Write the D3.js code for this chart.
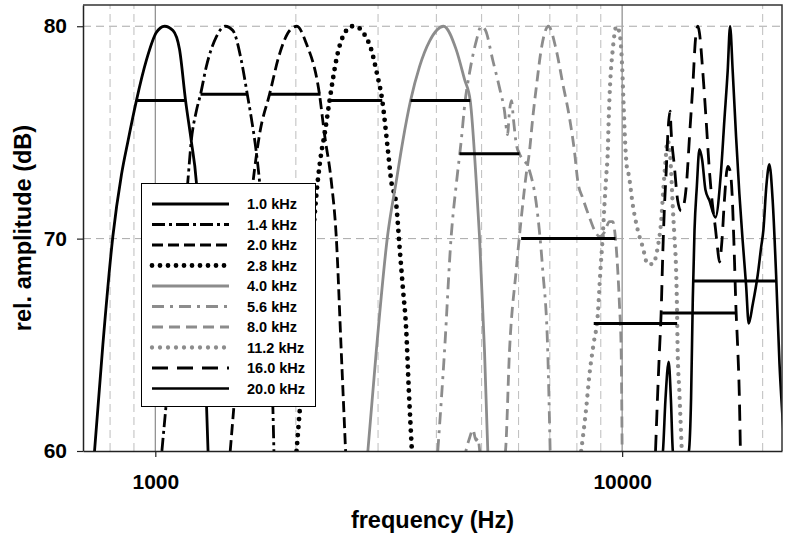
<!DOCTYPE html>
<html>
<head>
<meta charset="utf-8">
<script src="https://cdn.jsdelivr.net/npm/d3@7"></script>
<style>
body { margin: 0; background: #fff; }
text { font-family: "Liberation Sans", Arial, sans-serif; font-weight: bold; fill: #000; }
</style>
</head>
<body>
<div id="container"></div>
<script>
// tuning curves, [frequency Hz, rel. amplitude dB]
var c1_0 = [[741,60],[772,65.0],[811,70.1],[846,73.0],[874,74.6],[911,76.5],[957,78.4],[1005,79.7],[1047,80],[1091,79.8],[1127,78.9],[1161,76.5],[1194,74.6],[1224,72.7],[1269,65.7],[1288,62.0],[1297,60]];
var c1_4 = [[1033,60],[1052,61.9],[1105,66.8],[1174,72.7],[1194,74.6],[1224,76.0],[1250,76.8],[1286,78.1],[1351,79.5],[1412,80],[1466,79.8],[1528,78.4],[1574,76.8],[1605,75.7],[1645,74.1],[1672,72.7],[1740,67.1],[1786,62.0],[1795,60]];
var c2_0 = [[1447,60],[1530,66.4],[1620,72.7],[1672,74.9],[1757,76.8],[1846,78.7],[1940,79.8],[2010,80],[2105,79.2],[2247,76.8],[2304,74.9],[2382,72.7],[2441,70.1],[2502,64.7],[2556,60]];
var c2_8 = [[2007,60],[2119,66.6],[2228,72.7],[2266,74.0],[2304,74.9],[2362,76.5],[2401,77.5],[2441,78.4],[2521,79.5],[2642,80],[2739,79.9],[2807,79.6],[2901,78.9],[2982,77.8],[3063,76.5],[3148,74.2],[3202,72.7],[3282,71.6],[3336,69.6],[3390,67.7],[3447,65.7],[3491,62.9],[3545,60]];
var c4_0 = [[2853,60],[2974,64.7],[3143,70.1],[3282,72.7],[3390,74.6],[3522,76.5],[3681,78.1],[3868,79.3],[4143,80],[4411,78.9],[4596,77.5],[4727,76.5],[4869,72.7],[4948,70.1],[5072,64.7],[5155,60]];
var c5_6 = [[4028,60],[4164,64.7],[4303,70.1],[4420,72.7],[4521,74.6],[4611,76.5],[4710,77.8],[4869,79.3],[4990,80],[5097,79.8],[5283,78.4],[5462,77.1],[5598,76.0],[5681,74.9],[5737,76.0],[5794,76.5],[5851,75.6],[5938,74.4],[6026,74.0],[6331,73.2],[6543,71.7],[6760,68.5],[6928,64.7],[7011,60]];
var c8_0 = [[4500,58],[4618,59.9],[4710,60.6],[4791,61.0],[4863,60.5],[4911,60.6],[4960,59.9],[5300,57],[5625,60],[5737,64.7],[5929,68.5],[6076,70.9],[6228,73.0],[6331,74.1],[6435,75.7],[6563,77.3],[6708,78.9],[6950,80],[7222,78.9],[7461,77.3],[7712,75.7],[7905,74.1],[8035,72.7],[8236,71.9],[8511,71.0],[8724,70.4],[8942,70.1],[9165,70.3],[9393,70.8],[9548,70.8],[9677,70.0],[9786,68.5],[9868,66.9],[9952,64.7],[10000,60]];
var c11_2 = [[8170,60],[8374,62.0],[8511,63.6],[8680,65.0],[8866,66.4],[8984,68.5],[9087,70.1],[9165,71.6],[9242,72.9],[9316,74.1],[9361,75.7],[9426,77.3],[9548,78.9],[9723,80],[9868,79.7],[10000,78.1],[10064,76.5],[10130,74.9],[10230,73.4],[10330,73.0],[10537,71.6],[10800,70.4],[11070,69.6],[11340,68.8],[11630,68.8],[11920,69.6],[12120,70.8],[12260,72.4],[12380,73.6],[12500,74.6],[12620,74.4],[12730,73.2],[12830,71.6],[12940,70.1],[13050,68.5],[13110,66.6],[13150,64.7],[13260,62.8],[13420,60]];
var c16_0 = [[11790,60],[11920,62.8],[12020,64.7],[12120,66.5],[12220,69.3],[12320,71.5],[12430,73.2],[12520,74.8],[12670,76.0],[12730,75.1],[12940,73.4],[13150,71.8],[13380,71.3],[13530,71.5],[13750,72.7],[13940,74.8],[14170,77.2],[14360,79.4],[14530,80],[14640,79.7],[14880,77.9],[15130,75.6],[15380,73.2],[15630,71.5],[15840,70.5],[16000,69.6],[16160,68.9],[16360,69.9],[16560,71.8],[16830,73.4],[17030,73.2],[17200,72.1],[17350,69.9],[17540,66.6],[17680,64.9],[17830,62.5],[17920,60]];
var c20_0 = [[12020,59],[12230,60],[12380,62.4],[12580,64.2],[12720,62.4],[12840,60],[13260,58.5],[13900,60],[14050,62.5],[14170,67.2],[14290,70.4],[14450,72.4],[14640,74.2],[14840,73.7],[15080,72.3],[15380,71.8],[15840,71.0],[16290,73.2],[16560,75.6],[16830,77.9],[17030,80],[17250,77.9],[17540,74.8],[17830,72.1],[18120,69.9],[18430,67.8],[18670,66.0],[19040,66.9],[19520,68.3],[19850,69.6],[20070,70.4],[20370,72.5],[20670,73.5],[21010,71.8],[21370,68.3],[21730,64.1],[22010,61.9],[22500,59]];

var LABELS = ["1.0 kHz","1.4 kHz","2.0 kHz","2.8 kHz","4.0 kHz","5.6 kHz","8.0 kHz","11.2 kHz","16.0 kHz","20.0 kHz"];
var CURVES = [c1_0, c1_4, c2_0, c2_8, c4_0, c5_6, c8_0, c11_2, c16_0, c20_0];

// bandwidth bars: low edge, high edge, level
var BAND_LO = [911,1250,1757,2353,3522,4483,6076,8692,12180,14234];
var BAND_HI = [1161,1574,2259,3063,4727,6026,9676,13114,17480,21430];
var BAND_DB = [76.5,76.8,76.8,76.5,76.5,74.0,70.0,66.0,66.5,68.0];

var X_TICKS = [1000, 10000];
var X_GRID = [800,900,2000,3000,4000,5000,6000,7000,8000,9000,20000];
var Y_TICKS = [60, 70, 80];

var BLACK = "#000", GRAY = "#8c8c8c";
var STYLE = {
    "1.0 kHz":  { c: BLACK, w: 2.8, dash: null },
    "1.4 kHz":  { c: BLACK, w: 2.8, dash: "13,4,3,4" },
    "2.0 kHz":  { c: BLACK, w: 2.8, dash: "11,5" },
    "2.8 kHz":  { c: BLACK, w: 4.8, dash: "0,8", round: true },
    "4.0 kHz":  { c: GRAY,  w: 2.8, dash: null },
    "5.6 kHz":  { c: GRAY,  w: 2.8, dash: "12,6,3,6" },
    "8.0 kHz":  { c: GRAY,  w: 2.8, dash: "11,6" },
    "11.2 kHz": { c: GRAY,  w: 4.3, dash: "0,8", round: true },
    "16.0 kHz": { c: BLACK, w: 2.8, dash: "16,9" },
    "20.0 kHz": { c: BLACK, w: 2.6, dash: null }
};

var WIDTH = 789, HEIGHT = 538;
var M = { left: 83, top: 5, right: 7, bottom: 87 };

var x = d3.scaleLog().domain([700, 22000]).range([M.left, WIDTH - M.right]);
var y = d3.scaleLinear().domain([60, 81]).range([HEIGHT - M.bottom, M.top]);

var apply_style = function( sel, lbl )
{
    var s = STYLE[lbl];
    sel.attr("fill", "none")
	.attr("stroke", s.c)
	.attr("stroke-width", s.w)
	.attr("stroke-dasharray", s.dash)
	.attr("stroke-linecap", s.round ? "round" : "butt")
	.attr("stroke-linejoin", "round");
}

var svg = d3.select("#container").append("svg")
    .attr("width", WIDTH)
    .attr("height", HEIGHT);

svg.append("defs").append("clipPath")
    .attr("id", "plot-clip")
    .append("rect")
    .attr("x", M.left)
    .attr("y", M.top)
    .attr("width", WIDTH - M.left - M.right)
    .attr("height", HEIGHT - M.top - M.bottom);

// grid
var grid = svg.append("g");

grid.selectAll("line.vgrid")
    .data(X_GRID)
    .enter()
    .append("line")
    .attr("x1", function(d){ return x(d); })
    .attr("x2", function(d){ return x(d); })
    .attr("y1", y.range()[0])
    .attr("y2", y.range()[1])
    .attr("stroke", "#bdbdbd")
    .attr("stroke-width", 1)
    .attr("stroke-dasharray", "8,5");

grid.selectAll("line.decade")
    .data(X_TICKS)
    .enter()
    .append("line")
    .attr("x1", function(d){ return x(d); })
    .attr("x2", function(d){ return x(d); })
    .attr("y1", y.range()[0])
    .attr("y2", y.range()[1])
    .attr("stroke", "#8a8a8a")
    .attr("stroke-width", 1.2);

grid.selectAll("line.hgrid")
    .data(Y_TICKS.slice(1))
    .enter()
    .append("line")
    .attr("x1", x.range()[0])
    .attr("x2", x.range()[1])
    .attr("y1", function(d){ return y(d); })
    .attr("y2", function(d){ return y(d); })
    .attr("stroke", "#a8a8a8")
    .attr("stroke-width", 1)
    .attr("stroke-dasharray", "8,5");

// curves
var line = d3.line()
    .x(function(d){ return x(d[0]); })
    .y(function(d){ return y(d[1]); })
    .curve(d3.curveMonotoneX);

var plot = svg.append("g").attr("clip-path", "url(#plot-clip)");

CURVES.forEach(function( c, i ){
    plot.append("path")
	.attr("d", line(c))
	.call(apply_style, LABELS[i]);
});

// bandwidth bars
plot.selectAll("line.band")
    .data(BAND_DB)
    .enter()
    .append("line")
    .attr("x1", function(_, i){ return x(BAND_LO[i]); })
    .attr("x2", function(_, i){ return x(BAND_HI[i]); })
    .attr("y1", function(d){ return y(d); })
    .attr("y2", function(d){ return y(d); })
    .attr("stroke", "#000")
    .attr("stroke-width", 3);

// frame top / right
svg.append("path")
    .attr("d", "M" + x.range()[0] + "," + y.range()[1]
	  + "H" + x.range()[1] + "V" + y.range()[0])
    .attr("fill", "none")
    .attr("stroke", "#333")
    .attr("stroke-width", 1.5);

// axes
var xaxis = svg.append("g")
    .attr("transform", "translate(0," + y.range()[0] + ")")
    .call(d3.axisBottom(x).tickValues(X_TICKS).tickFormat(d3.format("d"))
	  .tickSize(6).tickSizeOuter(0).tickPadding(17));

var yaxis = svg.append("g")
    .attr("transform", "translate(" + x.range()[0] + ",0)")
    .call(d3.axisLeft(y).tickValues(Y_TICKS)
	  .tickSize(6).tickSizeOuter(0).tickPadding(10));

[xaxis, yaxis].forEach(function( a ){
    a.select(".domain").attr("stroke", "#222").attr("stroke-width", 1.5);
    a.selectAll(".tick line").attr("stroke", "#222").attr("stroke-width", 1.2);
    a.selectAll(".tick text")
	.style("font-family", "'Liberation Sans', Arial, sans-serif")
	.style("font-weight", "bold")
	.style("font-size", "21px")
	.attr("fill", "#000");
});

svg.append("text")
    .attr("x", (x.range()[0] + x.range()[1]) / 2)
    .attr("y", 528)
    .attr("text-anchor", "middle")
    .style("font-size", "23.5px")
    .text("frequency (Hz)");

svg.append("text")
    .attr("transform", "translate(31," + ((y.range()[0] + y.range()[1]) / 2) + ") rotate(-90)")
    .attr("text-anchor", "middle")
    .style("font-size", "23.5px")
    .text("rel. amplitude (dB)");

// legend
var legend = svg.append("g");

legend.append("rect")
    .attr("x", 141.5)
    .attr("y", 183.5)
    .attr("width", 174)
    .attr("height", 223)
    .attr("fill", "#fff")
    .attr("stroke", "#000")
    .attr("stroke-width", 1);

var rows = legend.selectAll("g.legend-row")
    .data(LABELS)
    .enter()
    .append("g")
    .attr("transform", function(_, i){ return "translate(0," + (204 + i * 20.5) + ")"; });

rows.append("line")
    .attr("x1", 152)
    .attr("x2", 229)
    .attr("y1", 0)
    .attr("y2", 0)
    .each(function( lbl ){ d3.select(this).call(apply_style, lbl); });

rows.append("text")
    .attr("x", 247)
    .attr("dy", "0.36em")
    .style("font-size", "14.5px")
    .text(function(d){ return d; });
</script>
</body>
</html>
